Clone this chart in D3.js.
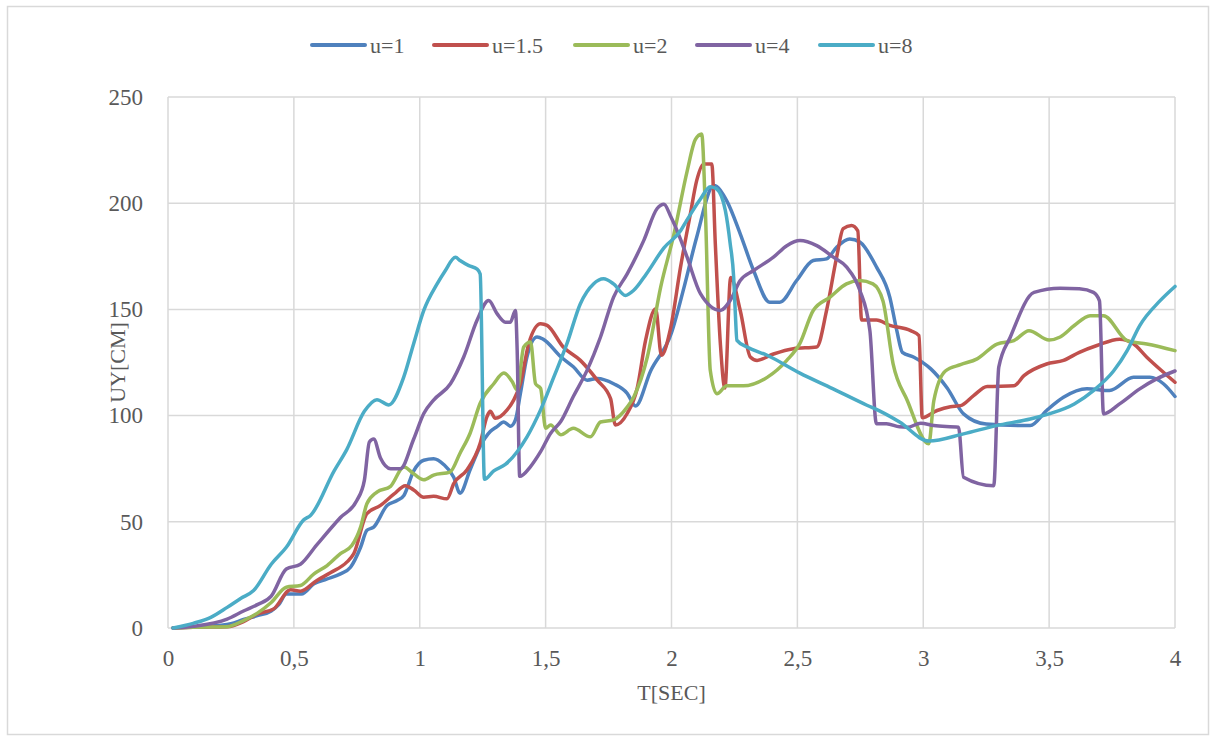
<!DOCTYPE html>
<html>
<head>
<meta charset="utf-8">
<script src="https://d3js.org/d3.v7.min.js"></script>
<style>
  body { margin: 0; background: #fff; }
  text { font-family: "Liberation Serif", "DejaVu Serif", serif; fill: #595959; }
</style>
</head>
<body>
<div id="chart"></div>
<script>
// Series values: [time in sec, UY in cm]
var u1 = [[0.02,0],[0.1,0.5],[0.2,1.2],[0.25,2],[0.3,4],[0.355,5.8],[0.41,8],[0.44,11],[0.47,16],[0.53,16],[0.58,20.8],[0.63,23],[0.685,25.5],[0.725,28.6],[0.765,38],[0.79,46],[0.817,47.5],[0.87,57.7],[0.91,60],[0.937,62.4],[0.976,74],[1.016,79],[1.055,79.7],[1.095,77],[1.135,71],[1.16,63.5],[1.2,74.5],[1.24,85.5],[1.28,92.5],[1.307,94.8],[1.334,97],[1.36,95],[1.38,98],[1.40,110.5],[1.426,127.7],[1.466,137],[1.49,136],[1.56,127.7],[1.61,123],[1.665,116.7],[1.705,117.5],[1.77,115],[1.824,110.5],[1.857,104.5],[1.917,121],[2.0,139],[2.05,160.5],[2.1,184],[2.168,208.3],[2.22,201],[2.273,185.6],[2.326,168.3],[2.39,153.4],[2.43,153.4],[2.497,163.6],[2.563,173],[2.616,173.8],[2.656,179.3],[2.708,183.2],[2.748,181.7],[2.814,170],[2.867,155.8],[2.895,140],[2.917,129.8],[2.963,127.5],[3.03,122],[3.095,113],[3.16,100.8],[3.25,96],[3.425,95.3],[3.49,102.4],[3.557,108.6],[3.65,112.6],[3.74,111.8],[3.835,118],[3.9,118],[3.954,115],[4.0,109]];
var u15 = [[0.02,0],[0.1,0.3],[0.235,0.6],[0.3,3],[0.355,6.6],[0.42,9],[0.487,18],[0.526,17.3],[0.59,22.3],[0.645,26],[0.71,31],[0.738,35],[0.79,53.8],[0.844,57.7],[0.897,63],[0.943,67],[0.976,65],[1.016,61.6],[1.055,62],[1.108,60.8],[1.135,68],[1.188,74.5],[1.24,87],[1.267,99.5],[1.28,102],[1.30,98.7],[1.347,102.7],[1.373,107.3],[1.40,115],[1.433,134],[1.48,143.3],[1.506,142.5],[1.57,132.3],[1.638,126],[1.705,116.7],[1.758,108],[1.777,95.6],[1.824,101],[1.864,113],[1.897,135.4],[1.937,150.3],[1.96,128.4],[1.996,141],[2.036,170],[2.075,195],[2.1,210.6],[2.128,218.5],[2.16,218.5],[2.174,181],[2.194,134],[2.212,113],[2.235,165],[2.273,149.5],[2.313,127.6],[2.34,126],[2.405,129],[2.484,131.5],[2.577,132.3],[2.616,149.5],[2.656,174.6],[2.682,188],[2.715,189.5],[2.74,187],[2.755,145],[2.814,145],[2.867,142.5],[2.95,140],[2.983,137.7],[2.996,99],[3.055,102.4],[3.108,104.2],[3.148,104.7],[3.2,109.4],[3.254,113.7],[3.36,114],[3.4,118.8],[3.49,124.3],[3.557,126],[3.62,129.8],[3.69,133],[3.78,136],[3.835,133.8],[3.888,127.5],[3.954,120.4],[4.0,115.7]];
var u2 = [[0.02,0],[0.1,0.3],[0.235,0.6],[0.3,3.5],[0.355,7],[0.41,12],[0.47,19.2],[0.526,20],[0.58,25.5],[0.632,29.4],[0.685,35],[0.73,38.8],[0.765,47.5],[0.79,58.5],[0.83,64],[0.884,66.7],[0.937,75.8],[0.976,72.6],[1.016,69.8],[1.055,72],[1.12,73.4],[1.16,82.3],[1.2,91.7],[1.24,105.8],[1.294,115],[1.334,120],[1.367,116],[1.387,112],[1.413,132.3],[1.44,134.7],[1.46,115],[1.48,112.8],[1.5,94],[1.52,95.6],[1.56,91],[1.61,94],[1.678,90],[1.718,97],[1.77,98],[1.824,104],[1.85,108.8],[1.904,127.6],[1.957,160.5],[2.01,185.6],[2.062,215],[2.095,230],[2.12,232.6],[2.135,195],[2.154,121.3],[2.18,110.3],[2.22,114],[2.286,114],[2.38,118],[2.458,126],[2.51,134],[2.563,149.5],[2.63,155.8],[2.695,162],[2.748,163.6],[2.8,162],[2.84,154],[2.88,124.5],[2.937,107],[3.022,86.7],[3.042,107],[3.088,121],[3.148,124],[3.214,126.7],[3.293,133.7],[3.36,135.3],[3.42,140],[3.5,135.6],[3.544,137],[3.6,142.4],[3.663,147],[3.716,147],[3.81,135.3],[3.888,133.7],[4.0,130.6]];
var u4 = [[0.02,0],[0.1,0.8],[0.235,4.2],[0.3,8],[0.355,11],[0.41,15],[0.47,27.8],[0.526,30],[0.59,39],[0.685,52],[0.75,60],[0.78,69.5],[0.80,87.6],[0.817,89],[0.844,80],[0.884,75],[0.923,75],[0.976,89],[1.016,101],[1.055,107.3],[1.122,115],[1.175,127.7],[1.228,145],[1.274,154.2],[1.307,148],[1.34,144],[1.36,144],[1.38,149.5],[1.387,130.8],[1.397,71.4],[1.44,76],[1.48,83],[1.52,91.7],[1.56,97.2],[1.61,109],[1.665,121.4],[1.718,137],[1.77,155.8],[1.824,166.7],[1.89,182.5],[1.943,197.5],[1.97,199.5],[1.996,194],[2.036,183],[2.062,174.6],[2.115,157.4],[2.194,149.5],[2.233,154.2],[2.273,163.6],[2.326,168.3],[2.405,174.6],[2.458,180],[2.51,182.4],[2.577,180],[2.643,174.6],[2.695,170],[2.748,159],[2.788,140],[2.814,96.2],[2.854,96.2],[2.906,94.7],[2.937,94.5],[2.99,96.4],[3.042,95.3],[3.14,94.5],[3.16,71],[3.28,67],[3.3,122.8],[3.346,137],[3.44,158],[3.544,160],[3.62,159.7],[3.676,158],[3.7,154],[3.716,100.8],[3.78,105.5],[3.86,112.6],[3.927,117.3],[4.0,121]];
var u8 = [[0.02,0],[0.1,2.2],[0.17,5],[0.235,9.7],[0.29,14],[0.34,17.6],[0.41,30],[0.47,38],[0.54,51],[0.566,53],[0.66,74],[0.71,84],[0.78,102],[0.83,107.5],[0.877,105],[0.936,118],[0.976,134],[1.016,149.5],[1.069,162],[1.10,168],[1.142,174.5],[1.16,173],[1.195,170.6],[1.228,169],[1.24,166.7],[1.257,70],[1.294,74],[1.34,77],[1.387,83],[1.426,90],[1.48,102.7],[1.532,118],[1.585,134],[1.638,152.7],[1.69,162],[1.73,164.4],[1.77,162],[1.817,156.6],[1.85,159],[1.90,166.7],[1.97,179],[2.036,187],[2.06,191.8],[2.115,202],[2.154,207.8],[2.18,206.7],[2.214,196.5],[2.233,181],[2.247,165],[2.253,149.5],[2.26,135.4],[2.30,132.3],[2.38,128.4],[2.51,120],[2.64,112.7],[2.774,105],[2.83,102],[2.906,97],[3.022,88],[3.16,91.4],[3.29,95.3],[3.425,98.4],[3.50,100.8],[3.6,105.5],[3.676,111.8],[3.756,121],[3.81,130.6],[3.86,142.4],[3.94,154],[4.0,160.8]];

var seriesNames = ["u=1", "u=1.5", "u=2", "u=4", "u=8"];
var seriesData = [u1, u15, u2, u4, u8];
var colors = ["#4F81BD", "#C0504D", "#9BBB59", "#8064A2", "#4BACC6"];

var xTicks = [0, 0.5, 1, 1.5, 2, 2.5, 3, 3.5, 4];
var xTickLabels = ["0", "0,5", "1", "1,5", "2", "2,5", "3", "3,5", "4"];
var yTicks = [0, 50, 100, 150, 200, 250];

// SVG area and margins
var svgWidth = 1210;
var svgHeight = 736;
var margin = { top: 97, right: 35, bottom: 108, left: 168 };
var chartWidth = svgWidth - margin.left - margin.right;
var chartHeight = svgHeight - margin.top - margin.bottom;

var svg = d3.select("#chart")
  .append("svg")
  .attr("width", svgWidth)
  .attr("height", svgHeight);

// outer frame of the chart
svg.append("rect")
  .attr("x", 7.5)
  .attr("y", 6.5)
  .attr("width", 1201)
  .attr("height", 728)
  .attr("fill", "none")
  .attr("stroke", "#d9d9d9")
  .attr("stroke-width", 1.5);

var chartGroup = svg.append("g")
  .attr("transform", `translate(${margin.left}, ${margin.top})`);

var x = d3.scaleLinear().domain([0, 4]).range([0, chartWidth]);
var y = d3.scaleLinear().domain([0, 250]).range([chartHeight, 0]);

// gridlines
chartGroup.append("g")
  .selectAll("line.h")
  .data(yTicks)
  .enter()
  .append("line")
  .attr("x1", 0)
  .attr("x2", chartWidth)
  .attr("y1", d => y(d))
  .attr("y2", d => y(d))
  .attr("stroke", "#d9d9d9")
  .attr("stroke-width", 1.5);

chartGroup.append("g")
  .selectAll("line.v")
  .data(xTicks)
  .enter()
  .append("line")
  .attr("x1", d => x(d))
  .attr("x2", d => x(d))
  .attr("y1", 0)
  .attr("y2", chartHeight)
  .attr("stroke", "#d9d9d9")
  .attr("stroke-width", 1.5);

// axes (labels only, no tick marks)
var bottomAxis = d3.axisBottom(x)
  .tickValues(xTicks)
  .tickSize(0)
  .tickPadding(22)
  .tickFormat((d, i) => xTickLabels[i]);
var leftAxis = d3.axisLeft(y)
  .tickValues(yTicks)
  .tickSize(0)
  .tickPadding(25);

var gx = chartGroup.append("g")
  .attr("transform", `translate(0, ${chartHeight})`)
  .call(bottomAxis);
var gy = chartGroup.append("g").call(leftAxis);

[gx, gy].forEach(function(g) {
  g.select(".domain").remove();
  g.selectAll("text")
    .style("font-size", "23px")
    .style("font-family", "Liberation Serif, serif")
    .attr("fill", "#595959");
});

// lines
var line = d3.line()
  .x(d => x(d[0]))
  .y(d => y(d[1]))
  .curve(d3.curveMonotoneX);

chartGroup.append("g")
  .selectAll("path")
  .data(seriesData)
  .enter()
  .append("path")
  .attr("d", d => line(d))
  .attr("fill", "none")
  .attr("stroke", (d, i) => colors[i])
  .attr("stroke-width", 3.5)
  .attr("stroke-linejoin", "round")
  .attr("stroke-linecap", "round");

// axis titles
svg.append("text")
  .attr("x", margin.left + chartWidth / 2)
  .attr("y", 700)
  .attr("text-anchor", "middle")
  .style("font-size", "22px")
  .text("T[SEC]");

svg.append("text")
  .attr("transform", `translate(125, ${margin.top + chartHeight / 2}) rotate(-90)`)
  .attr("text-anchor", "middle")
  .style("font-size", "22px")
  .text("UY[CM]");

// legend
var legendX = [312, 434, 575, 697, 820];
var legend = svg.append("g")
  .selectAll("g")
  .data(seriesNames)
  .enter()
  .append("g")
  .attr("transform", (d, i) => `translate(${legendX[i]}, 45)`);

legend.append("line")
  .attr("x1", 0)
  .attr("x2", 53)
  .attr("stroke", (d, i) => colors[i])
  .attr("stroke-width", 4)
  .attr("stroke-linecap", "round");

legend.append("text")
  .attr("x", 58)
  .attr("dy", "0.35em")
  .style("font-size", "22px")
  .text(d => d);
</script>
</body>
</html>
